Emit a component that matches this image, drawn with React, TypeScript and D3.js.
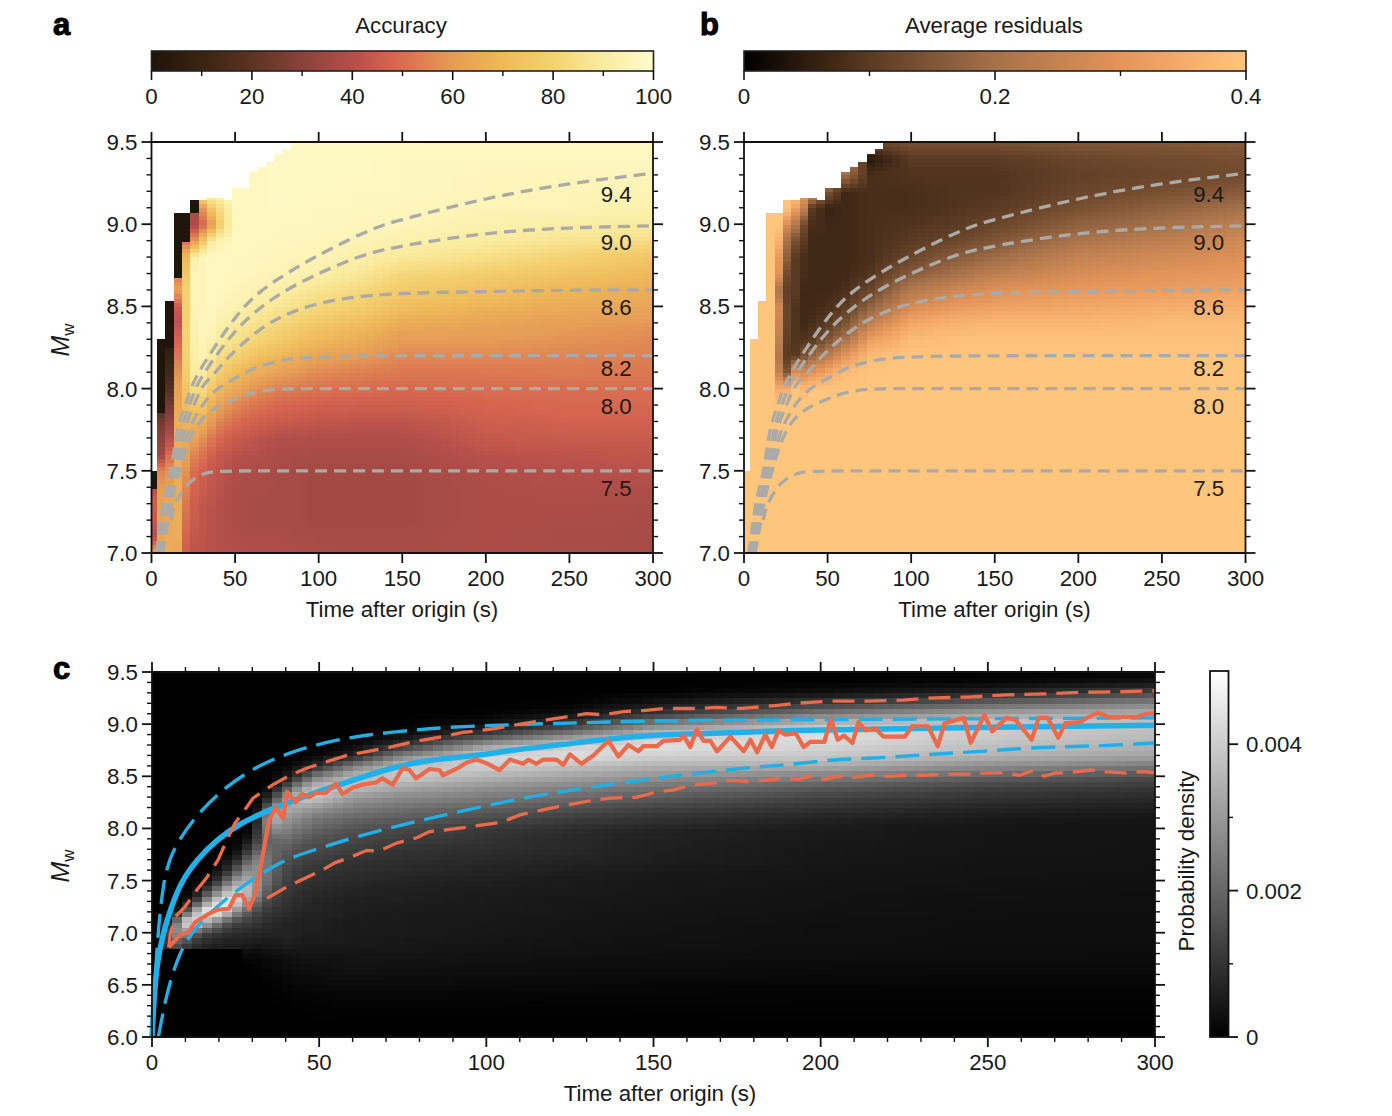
import React from "react";
import * as d3 from "d3";

// ---------- shared axis data ----------
const timeTicks = [0, 50, 100, 150, 200, 250, 300];
const mwTicksAB = [7.0, 7.5, 8.0, 8.5, 9.0, 9.5];
const mwMinorAB = [7.1,7.2,7.3,7.4,7.6,7.7,7.8,7.9,8.1,8.2,8.3,8.4,8.6,8.7,8.8,8.9,9.1,9.2,9.3,9.4];
const mwTicksC = [6.0, 6.5, 7.0, 7.5, 8.0, 8.5, 9.0, 9.5];
const accuracyTicks = [0, 20, 40, 60, 80, 100];
const accuracyMinor = [10, 30, 50, 70, 90];
const residualTicks = [0, 0.2, 0.4];
const residualMinor = [0.1, 0.3];
const densityTicks = [0, 0.002, 0.004];
const densityMinor = [0.001, 0.003];

// ---------- colour maps ----------
const accuracyStops = [0, 10, 20, 30, 40, 48, 60, 70, 80, 90, 100];
const accuracyColors = ["#1f1409","#3a2413","#5c3320","#8a423c","#b44f4a","#d5644f","#e69c56","#efb95a","#f4d272","#faec9f","#fffbcd"];
const residualStops = [0, 0.05, 0.1, 0.2, 0.3, 0.35, 0.4];
const residualColors = ["#000000","#2e1c0f","#5a3a22","#a5714a","#e39459","#f5ac6c","#fec57d"];

// ---------- heat-map tables a, b (rows of Mw 7.0..9.5 in 0.1 steps, one list per time knot) ----------
const abMw = d3.range(26).map((i) => 7 + i * 0.1);
const abTimes = [0.8, 5.8, 10.8, 15.8, 20.8, 25.8, 30.8, 35.8, 40.8, 50, 60, 75, 100, 125, 150, 200, 250, 300];
const accuracyTable = [
  [62,40,44,46,40,40,40,40,40,40,40,40,40,40,40,40,40,40,40,40,40,40,40,40,40,40],
  [64,63,62,62,60,55,35,30,25,15,4,4,4,4,4,4,4,4,4,4,4,4,4,4,4,4],
  [66,65,65,64,62,58,50,40,32,25,18,12,8,5,4,4,4,4,4,4,4,4,4,4,4,4],
  [64,66,66,66,66,66,66,66,66,64,62,58,52,48,42,45,62,52,50,50,50,50,50,50,50,50],
  [46,48,50,52,55,58,62,66,68,72,75,78,80,80,80,80,80,76,70,50,50,50,50,50,50,50],
  [42,43,45,46,48,50,55,62,68,76,84,90,92,93,94,95,95,95,92,60,38,38,38,38,38,38],
  [42,42,43,43,45,47,51,58,66,75,84,90,94,95,96,96,96,96,96,76,48,60,97,97,97,97],
  [41,41,41,42,43,44,47,53,60,68,76,84,90,94,96,97,97,97,97,90,60,76,97,97,97,97],
  [40,40,40,40,41,42,44,49,55,62,70,78,85,90,93,96,97,97,97,94,78,84,97,97,97,97],
  [40,39,38,38,38,39,41,45,50,56,64,72,80,86,90,94,96,97,97,97,97,97,97,97,97,97],
  [39,38,37,37,38,38,40,43,47,52,59,67,75,82,87,91,94,96,97,97,97,97,97,97,97,97],
  [39,38,37,37,37,37,38,40,45,49,54,62,70,77,83,88,92,95,96,97,97,98,98,98,98,98],
  [38,37,36,36,36,36,37,39,43,47,51,56,63,70,76,82,87,92,95,96,97,97,98,98,98,98],
  [37,37,36,36,36,36,37,39,42,46,50,54,60,66,72,78,83,88,92,95,96,97,97,98,98,98],
  [37,37,36,36,36,36,37,39,42,46,49,52,56,60,66,72,77,82,89,93,96,96,97,97,97,98],
  [38,38,38,38,38,39,41,44,46,48,50,52,56,60,63,68,73,78,85,90,93,95,96,96,97,97],
  [38,37,38,38,39,40,42,45,47,49,50,53,55,58,61,65,69,74,80,87,91,95,95,96,97,97],
  [37,37,37,38,39,41,43,45,47,49,50,52,54,56,59,63,66,70,75,84,90,93,95,96,97,97],
];
// average residuals in units of 0.01
const residualTable = [
  [40,40,40,40,40,40,40,40,40,40,40,40,40,40,40,40,40,40,40,40,40,40,40,40,40,40],
  [40,40,40,40,40,40,40,40,40,40,40,40,40,40,40,40,40,40,40,40,40,40,40,40,40,40],
  [40,40,40,40,40,40,40,40,40,40,40,40,40,40,40,40,40,40,40,40,40,40,40,40,40,40],
  [40,40,40,40,40,40,40,40,40,40,40,40,40,40,40,40,40,40,40,40,40,40,40,40,40,40],
  [40,40,40,40,40,40,40,40,40,40,35,25,22,24,26,27,21,30,31,36,40,40,40,40,40,40],
  [40,40,40,40,40,40,40,40,40,40,36,15,10,11,12,12,11,13,17,20,28,40,40,40,40,40],
  [40,40,40,40,40,40,40,40,40,40,40,30,10,9,9,9,10,10,10,14,22,33,40,40,40,40],
  [40,40,40,40,40,40,40,40,40,40,38,28,14,9,7,7,7,8,8,10,13,25,32,40,40,40],
  [40,40,40,40,40,40,40,40,40,40,40,30,18,10,8,7,7,7,7,7,8,10,28,40,40,40],
  [40,40,40,40,40,40,40,40,40,40,40,34,23,15,10,8,7,7,7,7,7,6,15,30,40,40],
  [40,40,40,40,40,40,40,40,40,40,40,38,30,20,14,10,8,7,7,7,7,7,7,20,30,40],
  [40,40,40,40,40,40,40,40,40,40,40,40,38,32,24,17,12,9,8,8,8,8,8,8,4,12],
  [40,40,40,40,40,40,40,40,40,40,40,40,40,38,34,28,22,16,12,10,9,8,8,9,10,14],
  [40,40,40,40,40,40,40,40,40,40,40,40,40,39,36,31,26,20,16,12,10,9,9,9,10,14],
  [40,40,40,40,40,40,40,40,40,40,40,40,40,39,37,33,29,24,19,15,12,10,9,9,10,14],
  [40,40,40,40,40,40,40,40,40,40,40,40,40,39,37,34,31,28,25,21,17,14,12,11,12,15],
  [40,40,40,40,40,40,40,40,40,40,40,40,40,39,38,35,32,30,27,24,20,17,14,12,13,15],
  [40,40,40,40,40,40,40,40,40,40,40,40,40,39,38,36,33,31,29,27,24,20,16,13,14,16],
];
// highest Mw with data per 5 s column; dark column tops of panel a
const columnTop = [7.5,8.3,8.53,9.07,9.07,9.15,9.15,9.16,9.16,9.15,9.22,9.22,9.32,9.35,9.38,9.43,9.46,9.5];
const accuracyCapBottom = [7.39,7.85,8.25,8.67,8.89,9.07];

// ---------- contour curves a, b [time, Mw] ----------
const curve94 = [[3,7],[4.5,7.12],[6,7.24],[8,7.35],[11,7.46],[13,7.58],[14.6,7.7],[17,7.81],[20.6,7.91],[24,8.02],[30,8.13],[37.5,8.25],[49.5,8.43],[63.5,8.59],[87,8.74],[107,8.85],[133,8.98],[150,9.03],[200,9.16],[250,9.25],[300,9.31]];
const curve90 = [[3.9,7],[5.6,7.12],[7.2,7.24],[9.2,7.35],[12.2,7.46],[14.5,7.58],[17,7.7],[19.4,7.81],[23,7.91],[27,8.02],[33,8.12],[41.5,8.24],[53,8.39],[71.6,8.55],[95,8.68],[127,8.82],[150,8.87],[200,8.95],[250,8.98],[300,8.99]];
const curve86 = [[4.8,7],[6.7,7.12],[8.4,7.24],[10.4,7.35],[13.4,7.46],[16,7.58],[18.6,7.7],[21.4,7.81],[26,7.91],[30,8.02],[38.7,8.1],[45.5,8.19],[63.5,8.36],[83,8.47],[107,8.54],[139,8.58],[200,8.59],[250,8.6],[300,8.6]];
const curve82 = [[5.7,7],[7.8,7.12],[9.6,7.24],[11.6,7.35],[14.6,7.46],[17.5,7.58],[20.6,7.7],[25,7.81],[31,7.91],[37,7.98],[44,8.03],[51.5,8.07],[61.6,8.13],[79.6,8.18],[95,8.19],[120,8.2],[200,8.2],[300,8.2]];
const curve80 = [[6.6,7],[8.9,7.12],[10.8,7.24],[12.8,7.35],[15.8,7.46],[19,7.58],[23,7.7],[29,7.81],[36,7.87],[43.5,7.91],[57.5,7.97],[71.6,8],[100,8],[200,8],[300,8]];
const curve75 = [[11.5,7.2],[13,7.27],[15.6,7.33],[21.5,7.43],[31.6,7.49],[41.5,7.5],[100,7.5],[200,7.5],[300,7.5]];
const contours = [curve94, curve90, curve86, curve82, curve80, curve75];
const contourLabels = ["9.4", "9.0", "8.6", "8.2", "8.0", "7.5"];
const contourLabelMw = [9.184, 8.892, 8.496, 8.125, 7.894, 7.395];

// ---------- density table c (Mw 6.0..9.5 in 0.1 steps, units of 0.0001; trailing zeros left out) ----------
const cMw = d3.range(36).map((i) => 6 + i * 0.1);
const cTimes = [3, 6, 9, 12, 15, 18, 21, 24, 27, 30, 33, 36, 40, 45, 50, 60, 75, 100, 125, 150, 200, 250, 300];
const densityTable = [
  [0,0,0,0,0,0,0,0,0,1,2,1],
  [0,0,0,0,0,0,0,0,14,18,24,10,1],
  [0,0,0,0,0,0,0,0,10,14,32,40,10,1],
  [0,0,0,0,0,0,0,0,7,10,22,46,28,8,1],
  [0,0,0,0,0,0,0,0,5,8,14,38,46,22,8,2],
  [0,0,0,0,0,0,0,0,5,7,12,28,50,38,18,6,2],
  [0,0,0,0,0,0,0,0,5,6,10,20,46,46,30,14,6,2],
  [0,0,0,0,0,0,0,0,5,6,9,14,32,46,40,26,12,5,1],
  [0,0,0,0,0,0,0,0,2.5,6,8,12,22,36,40,34,24,12,5,1],
  [0,0,0,0,0,0,0.2,0.5,1.5,5,8,11,16,26,34,32,30,24,14,6,2],
  [0,0,0,0,0,0.2,0.5,1,2,5,7,9,12,16,22,26,26,26,22,18,18,14,6,2],
  [0,0,0,0,0.2,0.5,1,1.5,3,5,7,8,10,12,15,18,20,20,20,20,28,36,28,12,3,1],
  [0,0,0,0.2,0.5,1,1.5,2.5,3.5,6,7,7,9,10,11,13,14,16,18,22,26,30,34,28,14,4,1],
  [0,0,0.1,0.3,0.7,1.5,2,3,4,5,6,6,7,8,9,10,11,13,15,18,22,26,32,40,30,14,4,1],
  [0,0,0.2,0.5,1,1.5,2.5,3,4,5,6,6,7,7,8,9,10,12,14,16,19,23,29,38,38,26,9,2],
  [0,0.1,0.3,0.7,1.2,2,3,3.5,4,5,5,5,6,6,7,8,9,10,12,14,16,20,25,30,38,36,24,7,1.5],
  [0,0.1,0.3,0.7,1.2,2,2.8,3.3,4,4.5,5,5,5,6,6,7,8,9,10,12,14,18,22,27,33,40,38,26,10,2,0.3],
  [0,0.1,0.3,0.6,1,1.8,2.5,3,3.5,4,4.5,4.5,5,5,5.5,6,7,8,9,10,11,15,19,24,29,35,41,42,30,13,3,0.5],
  [0,0.1,0.3,0.5,1,1.5,2.2,2.8,3.2,3.5,4,4,4.5,4.5,5,5,6,7,8,8,9,12,16,21,26,32,38,44,40,26,11,3,0.5],
  [0,0.1,0.2,0.5,0.8,1.3,2,2.5,3,3.2,3.5,3.5,4,4,4.5,4.5,5,6,6,6.5,7,10,13,18,23,29,35,41,44,38,26,11,4,0.5],
  [0,0,0.2,0.4,0.7,1.2,1.7,2.2,2.6,3,3,3,3.3,3.5,3.5,4,4,4.5,4.5,5,5,7,10,13,18,25,34,39,42,44,38,24,12,3,0.5],
  [0,0,0.2,0.4,0.7,1.1,1.5,2,2.4,2.6,2.8,2.8,3,3,3.2,3.4,3.5,3.7,4,4,4,5,7,10,13,19,28,35,38,40,40,32,20,7,1.5,0.2],
  [0,0,0.2,0.4,0.7,1,1.5,2,2.3,2.5,2.7,2.7,3,3,3,3.2,3.4,3.5,3.7,3.8,4,4,6,8,11,15,24,32,35,37,38,35,26,14,4,0.5],
];
const densityFloorMw = 6.84;
const densityFloorUntil = 27;

// ---------- lines of panel c [time, Mw] ----------
const blueMedian = [[0,6],[0.9,6.55],[2.4,6.87],[4.4,7.12],[8.4,7.48],[13.4,7.7],[19.3,7.89],[26.3,8.05],[35.3,8.18],[48.3,8.34],[58.2,8.44],[71,8.58],[83,8.66],[98,8.7],[107,8.75],[122,8.8],[137,8.86],[152,8.9],[167,8.91],[190,8.94],[225,8.96],[300,8.99]];
const blueUpper = [[0.5,6.3],[1.5,6.9],[3.4,7.53],[6.4,7.82],[13.8,8.15],[22,8.4],[32,8.61],[43,8.75],[55,8.85],[65,8.9],[77,8.94],[88,8.97],[103,8.99],[124,9.01],[137,9.02],[149,9.03],[172,9.04],[300,9.06]];
const blueLower = [[1.9,6],[4.4,6.42],[7.4,6.74],[11.4,7],[21,7.31],[37,7.67],[47,7.78],[63,7.94],[78,8.06],[93,8.17],[112,8.3],[122,8.35],[134,8.41],[146,8.46],[157,8.51],[169,8.55],[180,8.59],[191,8.61],[203,8.66],[214,8.67],[226,8.695],[237,8.72],[249,8.74],[261,8.77],[273,8.785],[283,8.79],[300,8.82]];
const redMedian = [[5,6.86],[8.4,6.98],[10.8,7],[12.9,7.1],[16.4,7.17],[19.4,7.22],[23,7.23],[25,7.36],[27,7.36],[29,7.23],[31,7.38],[33,7.72],[35,8.08],[37,8.2],[39.2,8.1],[40.4,8.35],[43,8.25],[44.9,8.33],[47,8.3],[49,8.34],[52,8.34],[55,8.43],[57,8.33],[60,8.39],[63,8.42],[67,8.44],[68.8,8.48],[72,8.42],[75,8.58],[77,8.56],[79,8.48],[83,8.57],[86,8.56],[87,8.51],[91.6,8.58],[94,8.63],[97,8.66],[100.4,8.62],[104,8.56],[107,8.66],[111,8.62],[112.6,8.66],[115,8.62],[117,8.66],[121,8.66],[123,8.61],[125,8.71],[128.5,8.62],[132,8.7],[136.5,8.84],[139.5,8.69],[142.5,8.8],[145.5,8.74],[147,8.79],[151,8.79],[153,8.84],[158,8.85],[159,8.89],[161,8.78],[163,8.95],[165,8.84],[167,8.84],[169,8.74],[173,8.88],[177,8.74],[179,8.85],[181,8.73],[183.4,8.9],[185.4,8.78],[187.4,8.94],[189.4,8.9],[192.6,8.91],[194.9,8.78],[196.9,8.83],[201.1,8.83],[203,9.05],[205.1,8.85],[207,8.89],[209.5,8.82],[211.3,9.02],[213.4,8.94],[216.3,8.96],[218.8,8.88],[225.2,8.88],[227.3,8.98],[232.1,8.98],[235,8.79],[237.1,9.01],[242.8,9.06],[244.9,8.82],[249,9.09],[251.3,8.93],[255.6,9.06],[258.3,9.04],[263.1,8.85],[265.2,9.06],[267.9,9.06],[271.1,8.87],[273.2,9.01],[277.5,9.02],[279.7,9.06],[282.9,9.11],[286.1,9.07],[294.6,9.07],[297.8,9.1],[300,9.1]];
const redUpper = [[5,6.86],[5.5,7],[6.9,7.15],[9.9,7.25],[13.4,7.41],[16.4,7.53],[19.8,7.7],[22.4,7.89],[24.8,8.05],[27.8,8.18],[30.2,8.29],[36.2,8.42],[41.3,8.51],[46.4,8.58],[52.3,8.64],[58.3,8.7],[63.1,8.73],[71.2,8.78],[78,8.83],[85.3,8.87],[93,8.92],[103,8.96],[112,9.01],[118,9.04],[124,9.07],[130,9.1],[135,9.09],[141,9.12],[147,9.13],[153,9.15],[158,9.15],[164,9.15],[169,9.16],[176,9.15],[180,9.16],[187,9.18],[192.6,9.2],[203,9.22],[214,9.22],[224.6,9.23],[232,9.25],[244,9.26],[255.6,9.28],[267,9.29],[278,9.305],[288.7,9.31],[300,9.32]];
const redLower = [[34.4,7.33],[39.8,7.43],[44.3,7.5],[50.3,7.59],[54.7,7.67],[59.8,7.73],[64.3,7.79],[67.6,7.78],[73.2,7.86],[79.2,7.91],[83,7.97],[89,7.99],[94,8.01],[100,8.04],[104.6,8.06],[110,8.13],[120,8.2],[130,8.26],[137,8.29],[145,8.3],[151,8.35],[156,8.37],[161.5,8.42],[167,8.43],[173,8.46],[178,8.45],[183,8.46],[188,8.48],[193.6,8.47],[198,8.51],[201,8.47],[205,8.5],[209.7,8.49],[215,8.51],[220.4,8.5],[225.7,8.51],[231,8.51],[237.5,8.52],[243,8.52],[249,8.53],[254.5,8.535],[259.4,8.51],[264,8.56],[266.8,8.5],[270,8.53],[274,8.535],[280.7,8.56],[285,8.545],[292,8.53],[296,8.545],[300,8.535]];

// ---------- helpers ----------
const FONT = "'Liberation Sans', Arial, sans-serif";
const INK = "#1a1a1a";
const FS = 22.3;

function lookup(table: number[][], times: number[], mws: number[], t: number, m: number) {
  const ti = Math.max(0, Math.min(times.length - 2, d3.bisectRight(times, t) - 1));
  const mi = Math.max(0, Math.min(mws.length - 2, Math.floor((m - mws[0]) / (mws[1] - mws[0]) + 1e-9)));
  const tf = Math.max(0, Math.min(1, (t - times[ti]) / (times[ti + 1] - times[ti])));
  const mf = Math.max(0, Math.min(1, (m - mws[mi]) / (mws[mi + 1] - mws[mi])));
  const at = (a: number, b: number) => table[a][b] ?? 0;
  const lo = at(ti, mi) * (1 - mf) + at(ti, mi + 1) * mf;
  const hi = at(ti + 1, mi) * (1 - mf) + at(ti + 1, mi + 1) * mf;
  return lo * (1 - tf) + hi * tf;
}

function MwLabel({ x, y }: { x: number; y: number }) {
  return (
    <text transform={`translate(${x},${y}) rotate(-90)`} textAnchor="middle" fontFamily={FONT} fontSize={25} fill={INK}>
      <tspan fontStyle="italic">M</tspan>
      <tspan fontSize={17} dy={5}>w</tspan>
    </text>
  );
}

function Frame({ x, y, xTicks, xMinor, yTicks, yMinor, yFormat }: any) {
  const [x0, x1] = x.range();
  const [y0, y1] = y.range();
  const line = (k: string, a: number, b: number, c: number, d: number, w = 1.8) => (
    <line key={k} x1={a} y1={b} x2={c} y2={d} stroke="#111" strokeWidth={w} />
  );
  return (
    <g>
      {line("t", x0, y1, x1, y1)}
      {line("b", x0, y0, x1, y0)}
      {line("l", x0, y0, x0, y1)}
      {line("r", x1, y0, x1, y1)}
      {xTicks.map((v: number) => (
        <g key={`x${v}`}>
          {line("u", x(v), y1, x(v), y1 - 10)}
          {line("d", x(v), y0, x(v), y0 + 10)}
          <text x={x(v)} y={y0 + 33} textAnchor="middle" fontFamily={FONT} fontSize={FS} fill={INK}>{v}</text>
        </g>
      ))}
      {xMinor.map((v: number) => (
        <g key={`xm${v}`}>
          {line("u", x(v), y1, x(v), y1 - 5, 1.4)}
          {line("d", x(v), y0, x(v), y0 + 5, 1.4)}
        </g>
      ))}
      {yTicks.map((v: number) => (
        <g key={`y${v}`}>
          {line("l", x0 - 10, y(v), x0, y(v))}
          {line("r", x1, y(v), x1 + 10, y(v))}
          <text x={x0 - 14} y={y(v) + 8} textAnchor="end" fontFamily={FONT} fontSize={FS} fill={INK}>{yFormat(v)}</text>
        </g>
      ))}
      {yMinor.map((v: number) => (
        <g key={`ym${v}`}>
          {line("l", x0 - 5, y(v), x0, y(v), 1.4)}
          {line("r", x1, y(v), x1 + 5, y(v), 1.4)}
        </g>
      ))}
    </g>
  );
}

function HorizontalBar({ id, x0, x1, y0, y1, domain, color, ticks, minor, format }: any) {
  const s = d3.scaleLinear().domain(domain).range([x0, x1]);
  const stops = d3.range(0, 1.0001, 0.02);
  return (
    <g>
      <defs>
        <linearGradient id={id} x1="0" x2="1" y1="0" y2="0">
          {stops.map((p) => (
            <stop key={p} offset={p} stopColor={color(domain[0] + p * (domain[1] - domain[0]))} />
          ))}
        </linearGradient>
      </defs>
      <rect x={x0} y={y0} width={x1 - x0} height={y1 - y0} fill={`url(#${id})`} stroke="#222" strokeWidth={1.6} />
      {ticks.map((v: number) => (
        <g key={v}>
          <line x1={s(v)} x2={s(v)} y1={y1} y2={y1 + 9} stroke="#111" strokeWidth={1.6} />
          <text x={s(v)} y={y1 + 33} textAnchor="middle" fontFamily={FONT} fontSize={FS} fill={INK}>{format(v)}</text>
        </g>
      ))}
      {minor.map((v: number) => (
        <line key={v} x1={s(v)} x2={s(v)} y1={y1} y2={y1 + 5} stroke="#111" strokeWidth={1.4} />
      ))}
    </g>
  );
}

function HeatAB({ x, y, table, scale, color, caps }: any) {
  const cells: React.ReactNode[] = [];
  const rowMw = d3.range(100).map((i) => 7 + i * 0.025);
  d3.range(61).forEach((k) => {
    const tA = Math.max(0, -1.7 + 5 * k);
    const tB = Math.min(300, 3.3 + 5 * k);
    const tC = k === 0 ? 0.8 : -1.7 + 5 * k + 2.5;
    const top = k < columnTop.length ? columnTop[k] : 9.5;
    rowMw.forEach((m) => {
      if (m >= top) return;
      const mB = Math.min(top, m + 0.025);
      const v = lookup(table, abTimes, abMw, tC, m + 0.0125) * scale;
      cells.push(
        <rect key={`${k}-${m}`} x={x(tA)} width={x(tB) - x(tA) + 0.4} y={y(mB)} height={y(m) - y(mB) + 0.4} fill={color(v)} />
      );
    });
    if (caps && k < caps.length) {
      cells.push(<rect key={`cap${k}`} x={x(tA)} width={x(tB) - x(tA)} y={y(top)} height={y(caps[k]) - y(top)} fill={color(0.5)} />);
    }
  });
  return <g shapeRendering="crispEdges">{cells}</g>;
}

function PanelAB({ x0, table, scale, color, caps }: any) {
  const x = d3.scaleLinear().domain([0, 300]).range([x0, x0 + 501.5]);
  const y = d3.scaleLinear().domain([7, 9.5]).range([553, 142]);
  const line = d3.line<number[]>().x((d) => x(d[0])).y((d) => y(d[1])).curve(d3.curveBasis);
  return (
    <g>
      <HeatAB x={x} y={y} table={table} scale={scale} color={color} caps={caps} />
      {contours.map((c, i) => (
        <path key={i} d={line(c as any) as string} fill="none" stroke="#acaaa6" strokeWidth={3.3} strokeDasharray="12 7" />
      ))}
      {contourLabels.map((l, i) => (
        <text key={l} x={x(278)} y={y(contourLabelMw[i]) + 8} textAnchor="middle" fontFamily={FONT} fontSize={FS} fill={INK}>{l}</text>
      ))}
      <Frame x={x} y={y} xTicks={timeTicks} xMinor={[]} yTicks={mwTicksAB} yMinor={mwMinorAB} yFormat={(v: number) => v.toFixed(1)} />
      <text x={(x0 + x0 + 501) / 2} y={617} textAnchor="middle" fontFamily={FONT} fontSize={FS} fill={INK}>Time after origin (s)</text>
    </g>
  );
}

export default function App() {
  const accuracyColor = d3.scaleLinear<string>().domain(accuracyStops).range(accuracyColors).clamp(true);
  const residualColor = d3.scaleLinear<string>().domain(residualStops).range(residualColors).clamp(true);
  const gray = d3.scaleLinear<string>().domain([0, 50]).range(["#000000", "#ffffff"]).clamp(true);

  const xc = d3.scaleLinear().domain([0, 300]).range([152, 1155]);
  const yc = d3.scaleLinear().domain([6, 9.5]).range([1037, 672]);
  const lineC = d3.line<number[]>().x((d) => xc(d[0])).y((d) => yc(d[1])).curve(d3.curveLinear);
  const smoothC = d3.line<number[]>().x((d) => xc(d[0])).y((d) => yc(d[1])).curve(d3.curveBasis);

  const cCells: React.ReactNode[] = [];
  d3.range(100).forEach((k) => {
    const t = 3 * k;
    d3.range(70).forEach((r) => {
      const m = 6 + r * 0.05;
      const mid = m + 0.025;
      let v = lookup(densityTable, cTimes, cMw, t + 1.5, mid);
      if (t + 1.5 < densityFloorUntil && mid < densityFloorMw) v = 0;
      cCells.push(
        <rect key={`${k}-${r}`} x={xc(t)} width={xc(t + 3) - xc(t) + 0.4} y={yc(m + 0.05)} height={yc(m) - yc(m + 0.05) + 0.4} fill={gray(v)} />
      );
    });
  });

  const cbY = d3.scaleLinear().domain([0, 0.005]).range([1037, 671]);
  const xcMinor = d3.range(0, 301, 10).filter((v) => v % 50 !== 0);
  const ycMinor = d3.range(0, 36).map((i) => 6 + i * 0.1).filter((_, i) => i % 5 !== 0);

  const letter = { fontFamily: FONT, fontSize: 31, fontWeight: "bold" as const, stroke: "#000", strokeWidth: 1 };

  return (
    <svg width={1392} height={1116} style={{ position: "absolute", left: 0, top: 0 }} xmlns="http://www.w3.org/2000/svg">
      <rect width={1392} height={1116} fill="#fff" />

      <text x={53} y={35} {...letter}>a</text>
      <text x={700} y={35} {...letter}>b</text>
      <text x={53} y={679} {...letter}>c</text>

      <text x={401} y={33} textAnchor="middle" fontFamily={FONT} fontSize={FS} fill={INK}>Accuracy</text>
      <text x={994} y={33} textAnchor="middle" fontFamily={FONT} fontSize={FS} fill={INK}>Average residuals</text>

      <HorizontalBar id="ga" x0={151.5} x1={653.5} y0={51} y1={71} domain={[0, 100]} color={accuracyColor} ticks={accuracyTicks} minor={accuracyMinor} format={(v: number) => `${v}`} />
      <HorizontalBar id="gb" x0={744} x1={1246} y0={51} y1={71} domain={[0, 0.4]} color={residualColor} ticks={residualTicks} minor={residualMinor} format={(v: number) => (v === 0 ? "0" : v.toFixed(1))} />

      <PanelAB x0={151.5} table={accuracyTable} scale={1} color={accuracyColor} caps={accuracyCapBottom} />
      <PanelAB x0={744} table={residualTable} scale={0.01} color={residualColor} caps={null} />
      <MwLabel x={69} y={340} />

      <g shapeRendering="crispEdges">{cCells}</g>
      <path d={smoothC(blueLower as any) as string} fill="none" stroke="#25aee3" strokeWidth={3.4} strokeDasharray="24 10" />
      <path d={smoothC(blueUpper as any) as string} fill="none" stroke="#25aee3" strokeWidth={3.4} strokeDasharray="24 10" />
      <path d={smoothC(blueMedian as any) as string} fill="none" stroke="#22b0e8" strokeWidth={5.5} />
      <path d={lineC(redUpper as any) as string} fill="none" stroke="#ea6a4b" strokeWidth={3.3} strokeDasharray="22 10" />
      <path d={lineC(redLower as any) as string} fill="none" stroke="#ea6a4b" strokeWidth={3.3} strokeDasharray="22 10" />
      <path d={lineC(redMedian as any) as string} fill="none" stroke="#ea6a4b" strokeWidth={4.2} strokeLinejoin="round" />
      <Frame x={xc} y={yc} xTicks={timeTicks} xMinor={xcMinor} yTicks={mwTicksC} yMinor={ycMinor} yFormat={(v: number) => v.toFixed(1)} />
      <text x={660} y={1101} textAnchor="middle" fontFamily={FONT} fontSize={FS} fill={INK}>Time after origin (s)</text>
      <MwLabel x={69} y={866} />

      <defs>
        <linearGradient id="gc" x1="0" x2="0" y1="1" y2="0">
          {d3.range(0, 1.0001, 0.1).map((p) => (
            <stop key={p} offset={p} stopColor={gray(p * 50)} />
          ))}
        </linearGradient>
      </defs>
      <rect x={1210} y={cbY(0.005)} width={18.5} height={cbY(0) - cbY(0.005)} fill="url(#gc)" stroke="#111" strokeWidth={1.8} />
      {densityTicks.map((v) => (
        <g key={v}>
          <line x1={1228} x2={1238} y1={cbY(v)} y2={cbY(v)} stroke="#111" strokeWidth={1.8} />
          <text x={1246} y={cbY(v) + 8} fontFamily={FONT} fontSize={FS} fill={INK}>{v === 0 ? "0" : v.toFixed(3)}</text>
        </g>
      ))}
      {densityMinor.map((v) => (
        <line key={v} x1={1228} x2={1233} y1={cbY(v)} y2={cbY(v)} stroke="#111" strokeWidth={1.4} />
      ))}
      <text transform="translate(1188,861) rotate(-90)" textAnchor="middle" dominantBaseline="middle" fontFamily={FONT} fontSize={FS} fill={INK}>Probability density</text>
    </svg>
  );
}
